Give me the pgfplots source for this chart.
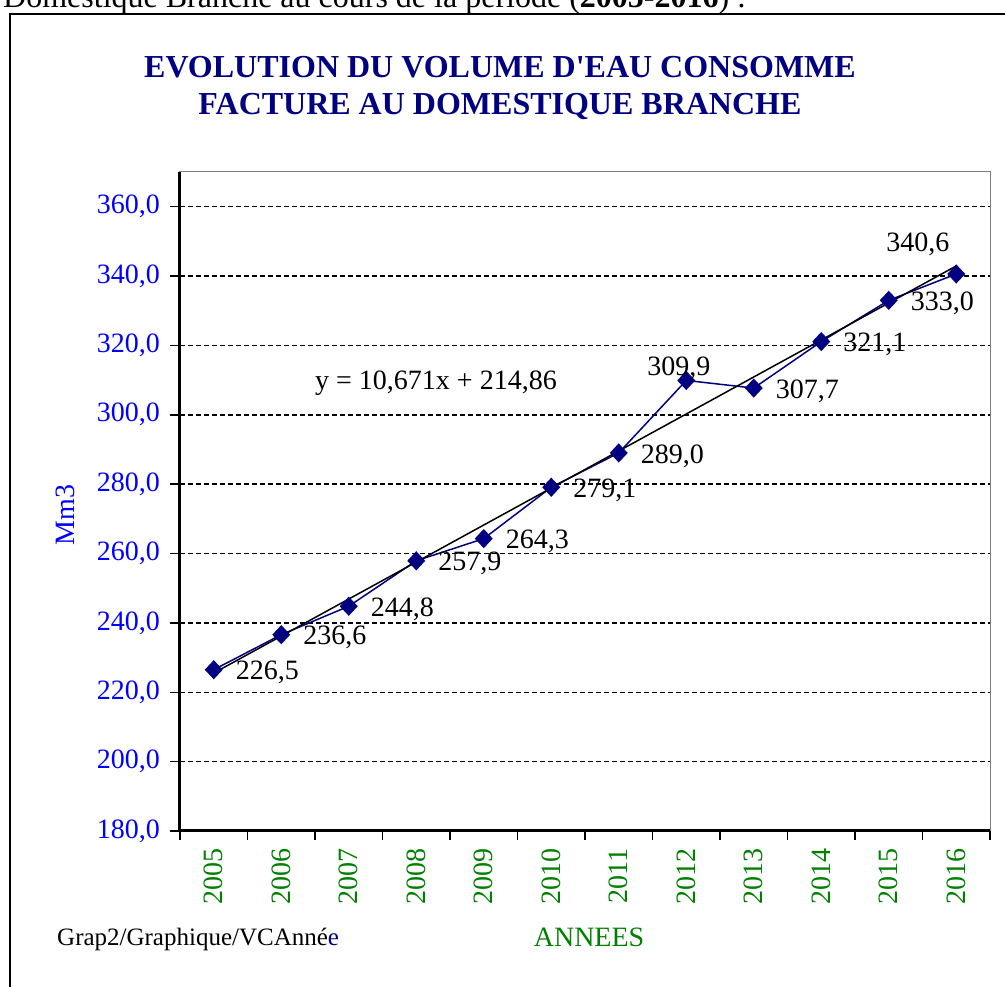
\documentclass[border=0pt]{standalone}
\usepackage{fontspec}
\setmainfont{Liberation Serif}
\usepackage{pgfplots}
\pgfplotsset{compat=1.18}
\definecolor{navy}{RGB}{0,0,128}
\definecolor{xgreen}{RGB}{0,128,0}
\newcommand{\lbl}{\fontsize{28}{30}\selectfont}
\begin{document}
\begin{tikzpicture}[x=1pt,y=1pt]
\useasboundingbox (0,0) rectangle (1005,987);
% ligne de texte coupee en haut
\node[anchor=base west, inner sep=0pt, font=\fontsize{32}{34}\selectfont] at (3,979)
  {Domestique Branche au cours de la période (\textbf{2005-2016}) :};
% cadre du graphique
\draw[line width=2pt] (10,-10) -- (10,973) -- (1020,973);
% titre
\node[anchor=base, inner sep=0pt, text=navy, font=\fontsize{32}{36}\selectfont\bfseries] at (500,909)
  {EVOLUTION DU VOLUME D\textquotesingle EAU CONSOMME};
\node[anchor=base, inner sep=0pt, text=navy, font=\fontsize{32}{36}\selectfont\bfseries] at (500,872)
  {FACTURE AU DOMESTIQUE BRANCHE};
\begin{axis}[
    at={(180pt,156pt)}, anchor=south west,
    scale only axis, width=810pt, height=659pt,
    xmin=-0.5, xmax=11.5, ymin=180, ymax=370,
    axis line style={gray, line width=1pt},
    xtick={0,...,11},
    xticklabels={2005,2006,2007,2008,2009,2010,2011,2012,2013,2014,2015,2016},
    minor xtick={-0.5,0.5,...,11.5},
    ytick={180,200,...,360},
    tick pos=left,
    tick align=outside,
    major tick length=10pt, minor tick length=9pt,
    major x tick style={draw=none},
    minor x tick style={black, line width=1.5pt},
    major y tick style={black, line width=1.5pt},
    ymajorgrids,
    grid style={black, line width=1.5pt, dash pattern=on 5pt off 3pt},
    xticklabel style={rotate=90, anchor=east, text=xgreen, font=\lbl, inner sep=2pt, xshift=-5pt},
    yticklabel style={text=blue, font=\lbl, inner sep=2pt, xshift=-8pt,
        /pgf/number format/.cd, fixed, fixed zerofill, precision=1, use comma},
    /pgf/number format/assume math mode=true,
    ylabel={Mm3},
    ylabel style={at={(axis description cs:-0.141,0.48)}, anchor=center, text=blue, font=\lbl},
    xlabel={ANNEES},
    xlabel style={at={(axis description cs:0.505,-0.161)}, anchor=center, text=xgreen, font=\lbl},
    clip=false,
]
\addplot[navy, line width=1.5pt, mark=diamond*,
    mark options={solid, fill=navy, mark size=8.5pt, xscale=1.25},
    nodes near coords,
    nodes near coords style={anchor=west, xshift=18pt, yshift=-3pt, text=black, font=\lbl,
        /pgf/number format/.cd, fixed, fixed zerofill, precision=1, use comma, assume math mode=true},
    coordinate style/.condition={x==7}{xshift=-61pt, yshift=15pt},
    coordinate style/.condition={x==11}{xshift=-92pt, yshift=33pt},
    ] coordinates {
    (0,226.5) (1,236.6) (2,244.8) (3,257.9) (4,264.3) (5,279.1)
    (6,289.0) (7,309.9) (8,307.7) (9,321.1) (10,333.0) (11,340.6)
};
% droite de tendance y = 10,671x + 214,86 (x = 1..12)
\addplot[black, line width=1.5pt] coordinates {(0,225.531) (11,342.912)};
\draw[black, line width=3pt] (rel axis cs:0,1) -- (rel axis cs:0,0) -- (rel axis cs:1,0);
\end{axis}
\node[anchor=base west, inner sep=0pt, font=\lbl] at (315,597) {y = 10,671x + 214,86};
\node[anchor=base west, inner sep=0pt, font=\fontsize{25}{27}\selectfont] at (57,41)
  {Grap2/Graphique/VCAnné\textcolor{navy}{e}};
\end{tikzpicture}
\end{document}
